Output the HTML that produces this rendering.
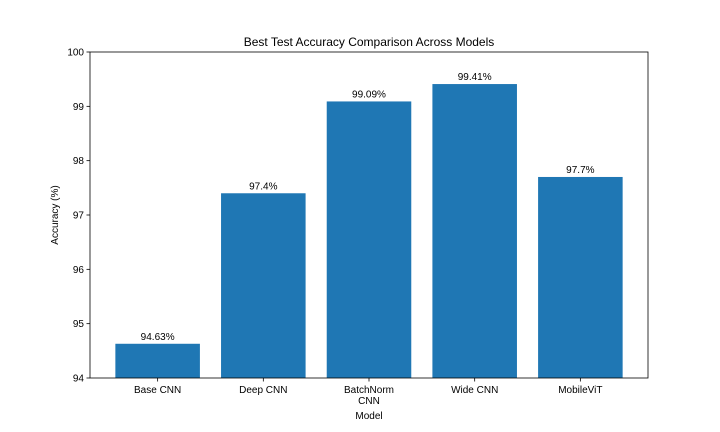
<!DOCTYPE html>
<html><head><meta charset="utf-8"><style>
body{margin:0;background:#fff}
svg{display:block;font-family:"Liberation Sans","DejaVu Sans",sans-serif}
</style></head><body>
<svg id="chart" width="720" height="432" viewBox="0 0 720 432">
<rect width="720" height="432" fill="#fff"/>
<text x="369" y="46" text-anchor="middle" font-size="12">Best Test Accuracy Comparison Across Models</text>
<g id="bars"></g>
<g id="yticks"></g>
<g id="xticks"></g>
<rect x="90" y="52" width="558" height="326" fill="none" stroke="#000" stroke-width="0.8"/>
<text transform="translate(58,215) rotate(-90)" text-anchor="middle" font-size="10">Accuracy (%)</text>
<text x="369" y="419" text-anchor="middle" font-size="10">Model</text>
</svg>
<script>
const categories = [["Base CNN"], ["Deep CNN"], ["BatchNorm", "CNN"], ["Wide CNN"], ["MobileViT"]];
const values = [94.63, 97.4, 99.09, 99.41, 97.7];
const valueLabels = ["94.63%", "97.4%", "99.09%", "99.41%", "97.7%"];
const yTicks = [94, 95, 96, 97, 98, 99, 100];

const L = 90, R = 648, T = 52, B = 378;
const yMin = 94, yMax = 100;
const xMin = -0.64, xMax = values.length - 1 + 0.64;
const y = v => B - (v - yMin) / (yMax - yMin) * (B - T);
const x = i => L + (i - xMin) / (xMax - xMin) * (R - L);
const bw = 0.8 * (R - L) / (xMax - xMin);
const NS = "http://www.w3.org/2000/svg";
const mk = (tag, attrs, parent) => { const e = document.createElementNS(NS, tag); for (const k in attrs) e.setAttribute(k, attrs[k]); parent.appendChild(e); return e; };

const gb = document.getElementById('bars');
values.forEach((v, i) => {
  const r = mk('rect', {x: x(i) - bw / 2, y: y(v), width: bw, height: B - y(v), fill: '#1f77b4'}, gb);
  
  
  const t = mk('text', {x: x(i), y: y(v) - 4, 'text-anchor': 'middle', 'font-size': 10}, gb);
  t.textContent = valueLabels[i];
  
  
});

const gy = document.getElementById('yticks');
yTicks.forEach(v => {
  const l = mk('line', {x1: L - 3.5, x2: L, y1: y(v), y2: y(v), stroke: '#000', 'stroke-width': 0.8}, gy);
  
  
  const t = mk('text', {x: L - 6, y: y(v) + 3.5, 'text-anchor': 'end', 'font-size': 10}, gy);
  t.textContent = v;
  
  
});

const gx = document.getElementById('xticks');
categories.forEach((c, i) => {
  const l = mk('line', {x1: x(i), x2: x(i), y1: B, y2: B + 3.5, stroke: '#000', 'stroke-width': 0.8}, gx);
  
  
  c.forEach((line, j) => {
    const t = mk('text', {x: x(i), y: B + 15 + j * 11, 'text-anchor': 'middle', 'font-size': 10}, gx);
    t.textContent = line;
    
    
  });
});
</script>
</body></html>
